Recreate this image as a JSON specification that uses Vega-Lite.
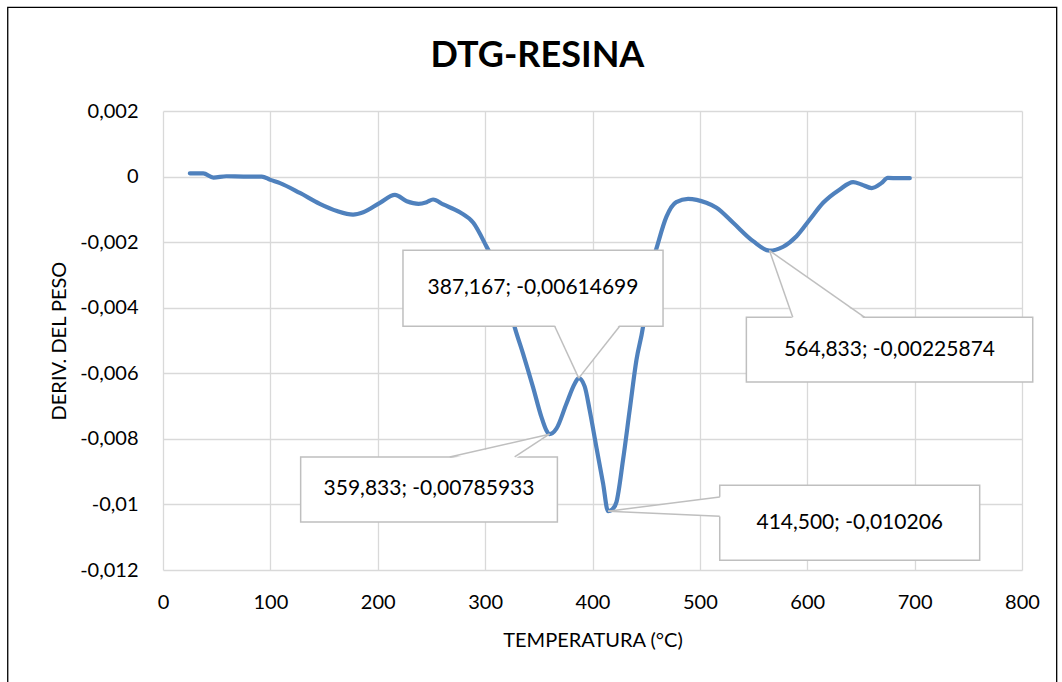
{
  "$schema": "https://vega.github.io/schema/vega-lite/v6.json",
  "width": 859,
  "height": 459,
  "autosize": {"type": "none"},
  "padding": {"left": 163, "top": 111, "right": 40, "bottom": 112},
  "background": "#ffffff",
  "config": {"view": {"stroke": null}, "font": "Lato"},
  "title": {
    "text": "DTG-RESINA",
    "font": "Lato",
    "fontSize": 36,
    "fontWeight": "bold",
    "color": "#000000",
    "anchor": "middle",
    "frame": "group",
    "baseline": "alphabetic",
    "dx": -55,
    "offset": -96
  },
  "datasets": {
    "curve": [
      {"t": 25, "d": 0.0001}, {"t": 37.5, "d": 0.0001}, {"t": 47, "d": -0.00003}, {"t": 59, "d": 0.00001},
      {"t": 75, "d": 0.0}, {"t": 92, "d": 0.0}, {"t": 100, "d": -0.0001}, {"t": 109, "d": -0.0002},
      {"t": 127.5, "d": -0.0005}, {"t": 146, "d": -0.00083}, {"t": 162, "d": -0.00105}, {"t": 177, "d": -0.00116},
      {"t": 186.5, "d": -0.00109}, {"t": 202, "d": -0.0008}, {"t": 216, "d": -0.00056}, {"t": 227, "d": -0.00075},
      {"t": 238, "d": -0.00083}, {"t": 245.5, "d": -0.00078}, {"t": 251.5, "d": -0.0007}, {"t": 261, "d": -0.00085},
      {"t": 276.5, "d": -0.00109}, {"t": 289, "d": -0.00141}, {"t": 301, "d": -0.00212}, {"t": 317, "d": -0.00324},
      {"t": 327.5, "d": -0.00459}, {"t": 335.3, "d": -0.0054}, {"t": 344.6, "d": -0.00642}, {"t": 352.4, "d": -0.00733},
      {"t": 357, "d": -0.00774}, {"t": 359.833, "d": -0.00785933}, {"t": 366.4, "d": -0.00769}, {"t": 375.7, "d": -0.00693},
      {"t": 383.4, "d": -0.00632}, {"t": 387.167, "d": -0.00614699}, {"t": 392.7, "d": -0.0064}, {"t": 397.4, "d": -0.00713},
      {"t": 403.6, "d": -0.00825}, {"t": 409.8, "d": -0.00935}, {"t": 414.5, "d": -0.010206}, {"t": 418.5, "d": -0.01015},
      {"t": 422.3, "d": -0.00993}, {"t": 428.4, "d": -0.00865}, {"t": 434.6, "d": -0.00713}, {"t": 440.9, "d": -0.0056},
      {"t": 447, "d": -0.00459}, {"t": 453.6, "d": -0.00286}, {"t": 459.5, "d": -0.0022}, {"t": 468.8, "d": -0.00123},
      {"t": 478, "d": -0.00078}, {"t": 489, "d": -0.00068},
      {"t": 506, "d": -0.0008}, {"t": 515.5, "d": -0.00095}, {"t": 531, "d": -0.00141}, {"t": 549.6, "d": -0.00197},
      {"t": 564.833, "d": -0.00225874}, {"t": 577.6, "d": -0.00214}, {"t": 590, "d": -0.00182}, {"t": 602.4, "d": -0.00131},
      {"t": 614.8, "d": -0.0008}, {"t": 630, "d": -0.0004}, {"t": 642.7, "d": -0.00017}, {"t": 650.5, "d": -0.00024},
      {"t": 660, "d": -0.00035}, {"t": 669, "d": -0.0002}, {"t": 675, "d": -0.00004}, {"t": 685, "d": -0.00005},
      {"t": 695.5, "d": -0.00005}
    ],
    "boxes": [
      {"x1": 223.5, "x2": 465.7, "y1": -0.002249, "y2": -0.004567, "cx": 344.6, "cy": -0.003408, "label": "387,167; -0,00614699"},
      {"x1": 128.2, "x2": 367.3, "y1": -0.008553, "y2": -0.010536, "cx": 247.75, "cy": -0.0095445, "label": "359,833; -0,00785933"},
      {"x1": 518.5, "x2": 760.6, "y1": -0.009416, "y2": -0.011704, "cx": 639.55, "cy": -0.01056, "label": "414,500; -0,010206"},
      {"x1": 543.3, "x2": 810.0, "y1": -0.004292, "y2": -0.006266, "cx": 676.65, "cy": -0.005279, "label": "564,833; -0,00225874"}
    ],
    "tri": [
      {"lab": "a", "o": 1, "px": 364.8, "py": -0.004506}, {"lab": "a", "o": 2, "px": 387.167, "py": -0.00614699}, {"lab": "a", "o": 3, "px": 425.3, "py": -0.004506},
      {"lab": "b", "o": 1, "px": 267.0, "py": -0.008614}, {"lab": "b", "o": 2, "px": 359.833, "py": -0.00785933}, {"lab": "b", "o": 3, "px": 327.5, "py": -0.008614},
      {"lab": "c", "o": 1, "px": 520.4, "py": -0.009773}, {"lab": "c", "o": 2, "px": 414.5, "py": -0.010206}, {"lab": "c", "o": 3, "px": 520.4, "py": -0.010362},
      {"lab": "d", "o": 1, "px": 586.5, "py": -0.004353}, {"lab": "d", "o": 2, "px": 564.833, "py": -0.00225874}, {"lab": "d", "o": 3, "px": 653.5, "py": -0.004353}
    ],
    "leaders": [
      {"x1": 364.8, "y1": -0.004567, "x2": 387.167, "y2": -0.00614699},
      {"x1": 425.3, "y1": -0.004567, "x2": 387.167, "y2": -0.00614699},
      {"x1": 267.0, "y1": -0.008553, "x2": 359.833, "y2": -0.00785933},
      {"x1": 327.5, "y1": -0.008553, "x2": 359.833, "y2": -0.00785933},
      {"x1": 518.5, "y1": -0.009773, "x2": 414.5, "y2": -0.010206},
      {"x1": 518.5, "y1": -0.010362, "x2": 414.5, "y2": -0.010206},
      {"x1": 586.5, "y1": -0.004292, "x2": 564.833, "y2": -0.00225874},
      {"x1": 653.5, "y1": -0.004292, "x2": 564.833, "y2": -0.00225874}
    ],
    "frame": [
      {"x1": -144.6, "x2": 832.3, "y1": 0.005163, "y2": -0.0178}
    ]
  },
  "layer": [
    {
      "data": {"name": "curve"},
      "mark": {"type": "line", "color": "#4f81bd", "strokeWidth": 4.2, "interpolate": "monotone", "strokeCap": "round", "strokeJoin": "round"},
      "encoding": {
        "x": {
          "field": "t", "type": "quantitative",
          "scale": {"domain": [0, 800], "nice": false, "zero": false},
          "axis": {
            "title": "TEMPERATURA (°C)",
            "values": [0, 100, 200, 300, 400, 500, 600, 700, 800],
            "grid": true, "gridColor": "#d9d9d9", "gridWidth": 1.3,
            "domain": false, "ticks": false, "labelFlush": false, "labelOverlap": false,
            "labelFont": "Lato", "labelFontSize": 20, "labelColor": "#000000", "labelPadding": 22,
            "titleFont": "Lato", "titleFontSize": 20, "titleFontWeight": "normal", "titleColor": "#000000", "titlePadding": 18
          }
        },
        "y": {
          "field": "d", "type": "quantitative",
          "scale": {"domain": [-0.012, 0.002], "nice": false, "zero": false},
          "axis": {
            "title": "DERIV. DEL PESO",
            "values": [-0.012, -0.01, -0.008, -0.006, -0.004, -0.002, 0, 0.002],
            "labelExpr": "replace(toString(datum.value), '.', ',')",
            "grid": true, "gridColor": "#d9d9d9", "gridWidth": 1.3,
            "domain": false, "ticks": false, "labelFlush": false, "labelOverlap": false,
            "labelFont": "Lato", "labelFontSize": 20, "labelColor": "#000000", "labelPadding": 25,
            "titleFont": "Lato", "titleFontSize": 20, "titleFontWeight": "normal", "titleColor": "#000000", "titlePadding": 10
          }
        }
      }
    },
    {
      "data": {"name": "boxes"},
      "mark": {"type": "rect", "fill": "#ffffff", "stroke": "#bfbfbf", "strokeWidth": 1.5},
      "encoding": {
        "x": {"field": "x1", "type": "quantitative"},
        "x2": {"field": "x2"},
        "y": {"field": "y1", "type": "quantitative"},
        "y2": {"field": "y2"}
      }
    },
    {
      "data": {"name": "tri"},
      "mark": {"type": "line", "fill": "#ffffff", "stroke": "#ffffff", "strokeWidth": 0.5, "interpolate": "linear"},
      "encoding": {
        "x": {"field": "px", "type": "quantitative"},
        "y": {"field": "py", "type": "quantitative"},
        "detail": {"field": "lab"},
        "order": {"field": "o"}
      }
    },
    {
      "data": {"name": "leaders"},
      "mark": {"type": "rule", "stroke": "#bfbfbf", "strokeWidth": 1.5},
      "encoding": {
        "x": {"field": "x1", "type": "quantitative"},
        "y": {"field": "y1", "type": "quantitative"},
        "x2": {"field": "x2"},
        "y2": {"field": "y2"}
      }
    },
    {
      "data": {"name": "boxes"},
      "mark": {"type": "text", "font": "Lato", "fontSize": 21, "color": "#000000", "align": "center", "baseline": "middle"},
      "encoding": {
        "x": {"field": "cx", "type": "quantitative"},
        "y": {"field": "cy", "type": "quantitative"},
        "text": {"field": "label"}
      }
    },
    {
      "data": {"name": "frame"},
      "mark": {"type": "rect", "fill": null, "filled": false, "stroke": "#000000", "strokeWidth": 1.3},
      "encoding": {
        "x": {"field": "x1", "type": "quantitative"},
        "x2": {"field": "x2"},
        "y": {"field": "y1", "type": "quantitative"},
        "y2": {"field": "y2"}
      }
    }
  ]
}
